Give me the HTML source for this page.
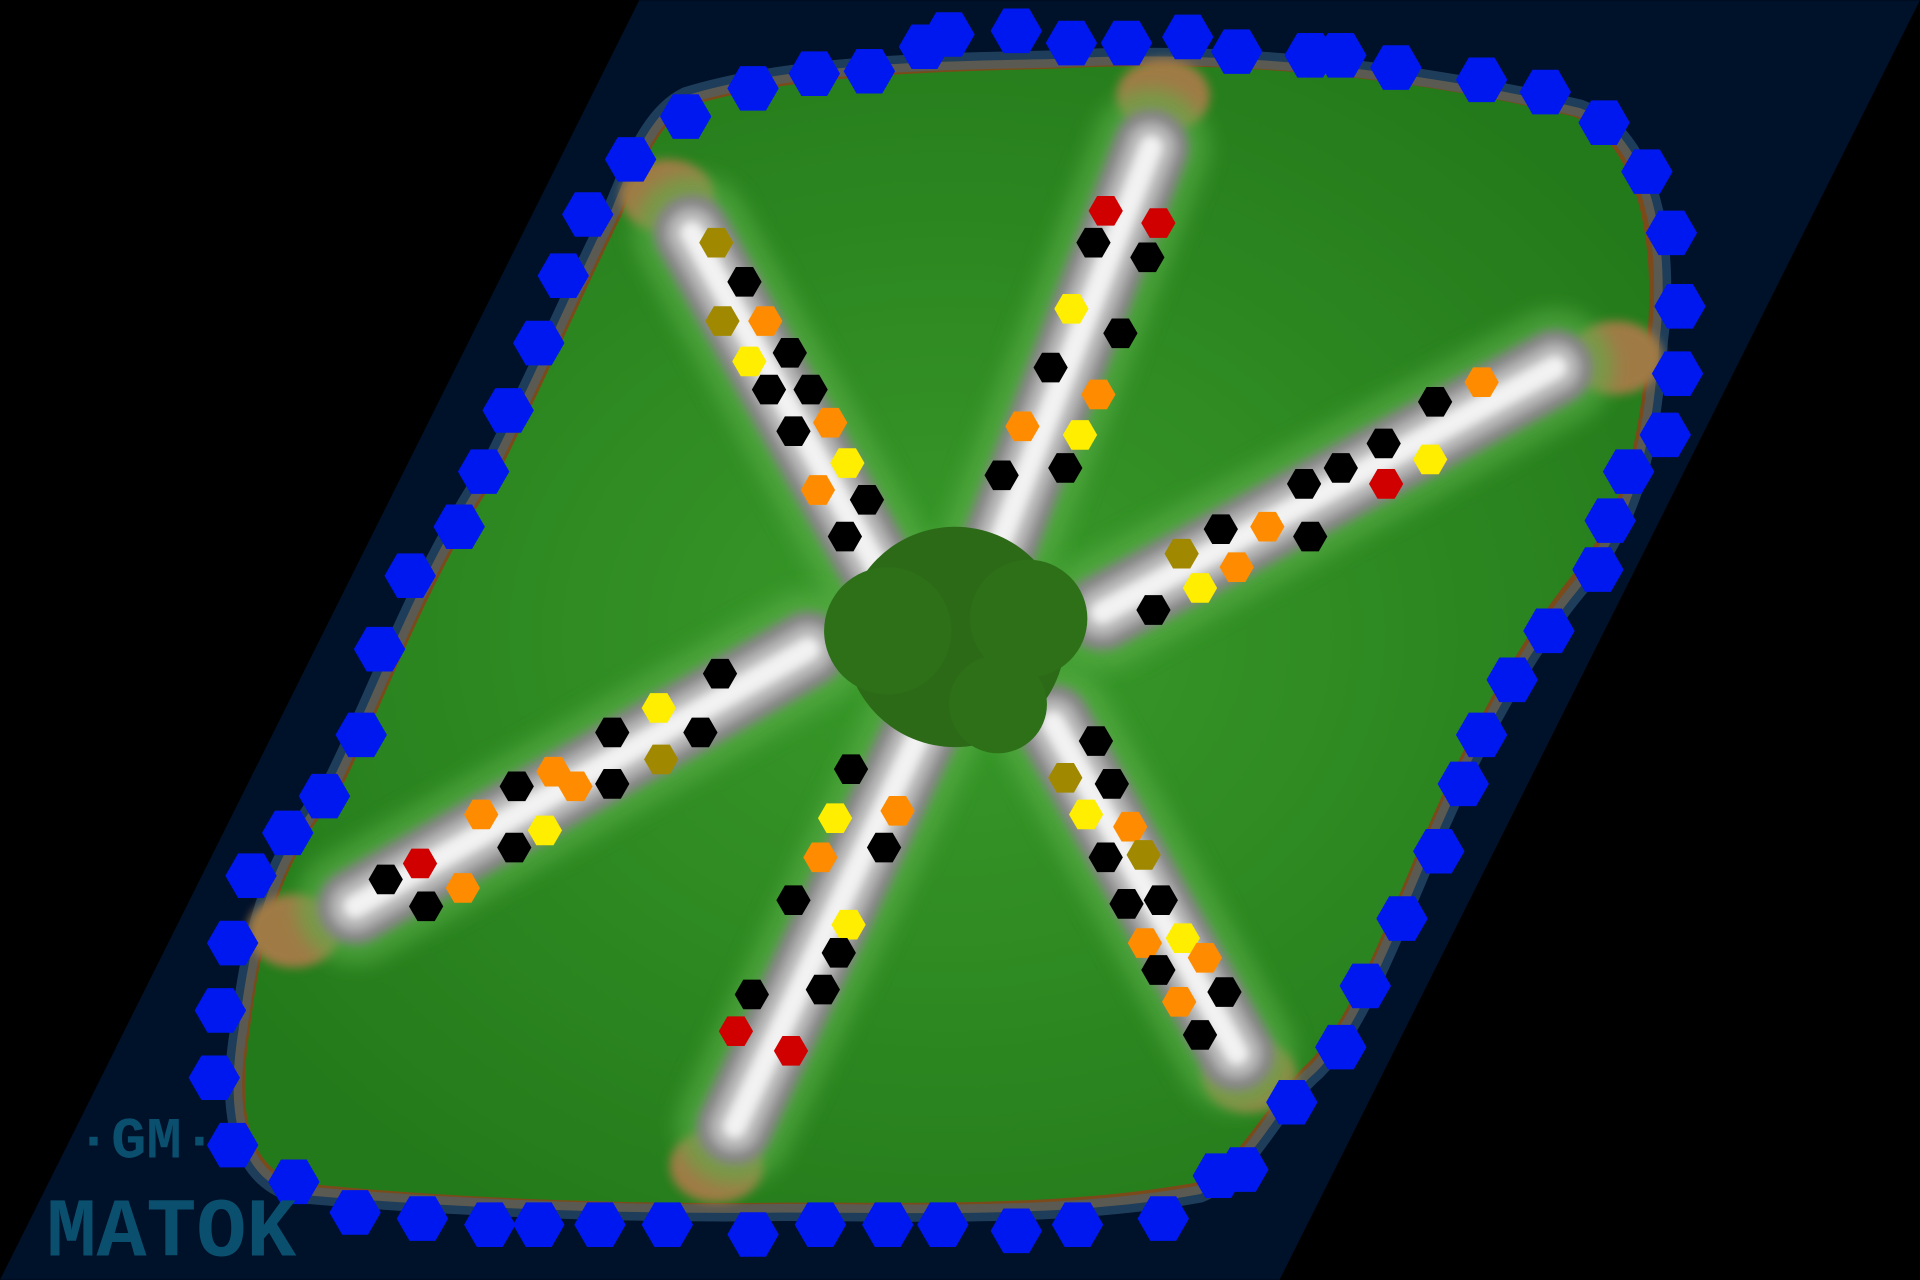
<!DOCTYPE html>
<html><head><meta charset="utf-8"><style>
html,body{margin:0;padding:0;background:#000;width:1920px;height:1280px;overflow:hidden}
svg{display:block}
</style></head><body>
<svg id="map" width="1920" height="1280" viewBox="0 0 1568 1045" xmlns="http://www.w3.org/2000/svg">
<defs>
<radialGradient id="g1" cx="50%" cy="50%" r="60%"><stop offset="0" stop-color="#3a9a2a"/><stop offset="1" stop-color="#237a1a"/></radialGradient>
<filter id="blur" filterUnits="userSpaceOnUse" x="0" y="0" width="1568" height="1045"><feGaussianBlur stdDeviation="8"/></filter>
<filter id="blur2" filterUnits="userSpaceOnUse" x="0" y="0" width="1568" height="1045"><feGaussianBlur stdDeviation="4"/></filter>
</defs>
<rect width="1568" height="1045" fill="#000"/>
<polygon points="522,0 1568,0 1045,1045 0,1045" fill="#00112a"/>
<path d="M560,78 C650,50 780,50 860,48 C1000,40 1150,55 1290,88 C1350,110 1365,200 1355,280 C1350,350 1340,420 1290,480 C1240,540 1200,620 1170,690 C1140,760 1110,840 1075,875 C1040,905 1020,960 980,975 C870,995 750,990 640,990 C500,992 350,985 240,975 C190,960 185,900 195,840 C205,760 220,700 270,640 C310,560 340,470 400,380 C440,300 470,230 500,170 C520,120 535,90 560,78 Z" fill="#7a4a1a" stroke="#3a6a8a" stroke-width="14" stroke-opacity="0.5"/>
<path d="M565,86 C650,60 780,58 860,56 C1000,48 1150,62 1285,95 C1340,118 1352,200 1345,280 C1340,350 1330,415 1282,472 C1232,535 1192,615 1162,685 C1132,755 1102,835 1068,868 C1035,898 1012,952 975,966 C865,985 750,982 640,982 C500,984 352,977 245,966 C198,952 195,900 204,840 C214,762 228,705 278,645 C318,565 348,475 408,385 C448,305 478,235 508,175 C527,125 542,97 565,86 Z" fill="url(#g1)"/>
<g id="bases"></g>
<g id="roads"></g>
<g>
<circle cx="780" cy="520" r="90" fill="#2d6a18"/>
<circle cx="725" cy="515" r="52" fill="#2d7018"/>
<circle cx="840" cy="505" r="48" fill="#2d7018"/>
<circle cx="815" cy="575" r="40" fill="#2d7018"/>
</g>
<g id="hexes"></g>
<text x="62" y="945" font-family="Liberation Mono, monospace" font-size="48" font-weight="bold" fill="#0b4f6e">·GM·</text>
<text x="38" y="1025" font-family="Liberation Mono, monospace" font-size="68" font-weight="bold" fill="#0b4f6e">MATOK</text>
</svg>
<script>
const roadStarts=[[565,190],[940,120],[1270,300],[660,530],[760,580],[860,590]];
const roadEnds=[[720,470],[810,460],[900,500],[290,740],[600,920],[1010,860]];
const baseX=[545,950,1320,240,585,1020];
const baseY=[160,78,292,760,952,878];
const blueHexX=[615,665,710,755,775,830,875,920,970,1010,1070,1095,1140,1210,1262,1310,1345,1365,1372,1370,1360,1330,1315,1305,1265,1235,1210,1195,1175,1145,1115,1095,1055,1015,995,950,880,830,770,725,670,615,545,490,440,400,345,290,240,190,175,180,190,205,235,265,295,310,335,375,395,415,440,460,480,515,560];
const blueHexY=[72,60,58,38,28,25,35,35,30,42,45,45,55,65,75,100,140,190,250,305,355,385,425,465,515,555,600,640,695,750,805,855,900,955,960,995,1000,1005,1000,1000,1000,1008,1000,1000,1000,1000,995,990,965,935,880,825,770,715,680,650,600,530,470,430,385,335,280,225,175,130,95];
const roadHexX=[585,608,590,625,612,645,628,662,648,678,692,668,708,690,903,946,893,937,875,915,858,897,835,882,870,818,1172,1210,1130,1168,1095,1132,1065,1035,1070,997,965,1010,980,942,588,538,500,572,452,422,540,470,393,500,420,445,343,315,378,348,695,733,682,722,670,648,693,685,614,672,601,646,895,870,908,887,923,934,903,920,948,966,935,984,946,963,1000,980];
const roadHexY=[198,230,262,262,295,288,318,318,352,345,378,400,408,438,172,182,198,210,252,272,300,322,348,355,382,388,328,312,362,375,382,395,395,430,438,432,452,463,480,498,550,578,598,598,630,642,620,642,665,640,692,678,705,718,725,740,628,662,668,692,700,735,755,778,812,808,842,858,605,635,640,665,675,698,700,738,735,766,770,782,792,818,810,845];
const roadHexC=["#a08800","#000","#a08800","#ff8c00","#ffee00","#000","#000","#000","#000","#ff8c00","#ffee00","#ff8c00","#000","#000","#d00000","#d00000","#000","#000","#ffee00","#000","#000","#ff8c00","#ff8c00","#ffee00","#000","#000","#000","#ff8c00","#000","#ffee00","#000","#d00000","#000","#ff8c00","#000","#000","#a08800","#ff8c00","#ffee00","#000","#000","#ffee00","#000","#000","#ff8c00","#000","#a08800","#ff8c00","#ff8c00","#000","#000","#ffee00","#d00000","#000","#ff8c00","#000","#000","#ff8c00","#ffee00","#000","#ff8c00","#000","#ffee00","#000","#000","#000","#d00000","#d00000","#000","#a08800","#000","#ffee00","#ff8c00","#a08800","#000","#000","#000","#ffee00","#ff8c00","#ff8c00","#000","#ff8c00","#000","#000"];
const NS="http://www.w3.org/2000/svg";
function hexPts(cx,cy,r){let p=[];for(let i=0;i<6;i++){const a=Math.PI/3*i;p.push((cx+r*Math.cos(a)).toFixed(1)+","+(cy+r*Math.sin(a)).toFixed(1));}return p.join(" ");}
const bases=document.getElementById('bases');
for(let i=0;i<baseX.length;i++){
  const e=document.createElementNS(NS,'ellipse');
  
  
  e.setAttribute('cx',baseX[i]);e.setAttribute('cy',baseY[i]);e.setAttribute('rx',38);e.setAttribute('ry',30);
  e.setAttribute('fill','#a07a45');e.setAttribute('filter','url(#blur2)');
  bases.appendChild(e);
}
const roads=document.getElementById('roads');
for(let i=0;i<roadStarts.length;i++){
  const [x1,y1]=roadStarts[i],[x2,y2]=roadEnds[i];
  [[95,"#5cb04a",0.6,"url(#blur)"],[62,"#858585",1,"url(#blur2)"],[42,"#b4b4b4",1,"url(#blur2)"],[20,"#f2f2f2",1,"url(#blur2)"]].forEach(s=>{
    const l=document.createElementNS(NS,'line');
    
    
    l.setAttribute('x1',x1);l.setAttribute('y1',y1);l.setAttribute('x2',x2);l.setAttribute('y2',y2);
    l.setAttribute('stroke',s[1]);l.setAttribute('stroke-width',s[0]);l.setAttribute('stroke-linecap','round');l.setAttribute('stroke-opacity',s[2]);
    l.setAttribute('filter',s[3]);
    roads.appendChild(l);
  });
}
const hexes=document.getElementById('hexes');
for(let i=0;i<blueHexX.length;i++){
  const h=document.createElementNS(NS,'polygon');
  
  
  h.setAttribute('points',hexPts(blueHexX[i],blueHexY[i],21));
  h.setAttribute('fill','#0018f0');
  hexes.appendChild(h);
}
for(let i=0;i<roadHexX.length;i++){
  const h=document.createElementNS(NS,'polygon');
  
  
  h.setAttribute('points',hexPts(roadHexX[i],roadHexY[i],14));
  h.setAttribute('fill',roadHexC[i]);
  hexes.appendChild(h);
}
</script>
</body></html>
